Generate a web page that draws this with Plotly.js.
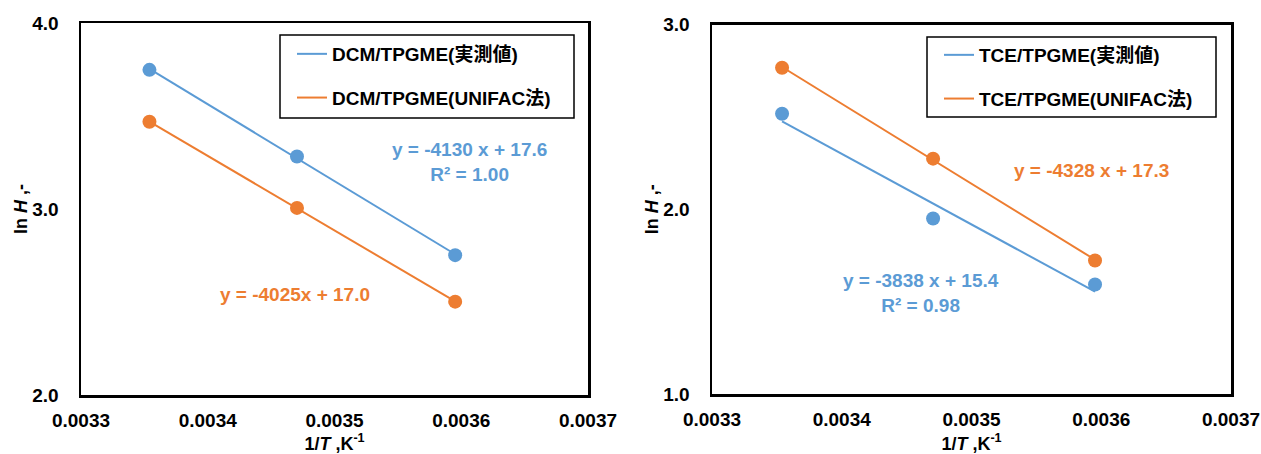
<!DOCTYPE html>
<html>
<head>
<meta charset="utf-8">
<script src="https://cdn.plot.ly/plotly-3.0.1.min.js"></script>
<style>html,body{margin:0;padding:0;background:#fff;}#chart{width:1261px;height:454px;}</style>
</head>
<body>
<div id="chart"></div>
<script>
// ---- data ----
const invT = [0.0033540, 0.0034704, 0.0035952];          // 1/T, K^-1
const dcmMeasured = [3.748, 3.282, 2.752];               // ln H, DCM/TPGME (実測値)
const dcmUnifac   = [3.469, 3.006, 2.502];               // ln H, DCM/TPGME (UNIFAC法)
const tceMeasured = [2.517, 1.950, 1.593];               // ln H, TCE/TPGME (実測値)
const tceUnifac   = [2.766, 2.274, 1.723];               // ln H, TCE/TPGME (UNIFAC法)
const seriesNames = ['DCM/TPGME(実測値)', 'DCM/TPGME(UNIFAC法)', 'TCE/TPGME(実測値)', 'TCE/TPGME(UNIFAC法)'];
const eqTexts = ['y = -4130 x + 17.6<br>R² = 1.00', 'y = -4025x + 17.0', 'y = -4328 x + 17.3', 'y = -3838 x + 15.4<br>R² = 0.98'];
const xTicks = [0.0033, 0.0034, 0.0035, 0.0036, 0.0037];
const yTicksLeft = [2, 3, 4];
const yTicksRight = [1, 2, 3];

// ---- style ----
const W = 1261, H = 454;
const BLUE = '#5B9BD5', ORANGE = '#ED7D31';
const FONT = 'Liberation Sans, Arial, Noto Sans CJK JP, sans-serif';
const px = v => v / W;
const py = v => 1 - v / H;

function linfit(xs, ys) {
  const n = xs.length;
  const mx = xs.reduce((a, b) => a + b, 0) / n;
  const my = ys.reduce((a, b) => a + b, 0) / n;
  let sxy = 0, sxx = 0;
  for (let i = 0; i < n; i++) { sxy += (xs[i] - mx) * (ys[i] - my); sxx += (xs[i] - mx) ** 2; }
  const m = sxy / sxx;
  return { m: m, b: my - m * mx };
}
function trend(xs, ys) {
  const f = linfit(xs, ys);
  const x0 = Math.min(...xs), x1 = Math.max(...xs);
  return { x: [x0, x1], y: [f.m * x0 + f.b, f.m * x1 + f.b] };
}

function pair(ys, color, name, xa, ya, leg, grp) {
  const t = trend(invT, ys);
  return [
    { x: t.x, y: t.y, mode: 'lines', name: name, line: { color: color, width: 2 },
      xaxis: xa, yaxis: ya, legend: leg, legendgroup: grp, showlegend: true, hoverinfo: 'skip' },
    { x: invT, y: ys, mode: 'markers', name: name, marker: { color: color, size: 14 },
      xaxis: xa, yaxis: ya, showlegend: false }
  ];
}

const data = [
  ...pair(dcmMeasured, BLUE, seriesNames[0], 'x', 'y', 'legend', 'a'),
  ...pair(dcmUnifac, ORANGE, seriesNames[1], 'x', 'y', 'legend', 'b'),
  ...pair(tceMeasured, BLUE, seriesNames[2], 'x2', 'y2', 'legend2', 'c'),
  ...pair(tceUnifac, ORANGE, seriesNames[3], 'x2', 'y2', 'legend2', 'd')
];

const tickFont = { family: FONT, size: 19, color: '#000', weight: 'bold' };
const titleFont = { family: FONT, size: 18, color: '#000', weight: 'bold' };

function xAxis(domain, anchor) {
  return {
    domain: domain, anchor: anchor, range: [0.0033, 0.0037], tickvals: xTicks, tickformat: '.4f',
    showgrid: false, zeroline: false, showline: true, mirror: true, linecolor: '#000', linewidth: 2.5,
    ticks: '', ticklabelstandoff: 7, tickfont: tickFont, fixedrange: true,
    title: { text: '1/<i>T</i> ,K<sup>-1</sup>', font: titleFont, standoff: 13 }
  };
}
function yAxis(domain, anchor, range, ticks) {
  return {
    domain: domain, anchor: anchor, range: range, tickvals: ticks, tickformat: '.1f',
    showgrid: false, zeroline: false, showline: true, mirror: true, linecolor: '#000', linewidth: 2.5,
    ticks: '', ticklabelstandoff: 16, tickfont: tickFont, fixedrange: true,
    title: { text: 'ln <i>H</i> ,-', font: titleFont, standoff: 0 }
  };
}
const legFont = { family: FONT, size: 19, color: '#000', weight: 'bold' };

const layout = {
  width: W, height: H, margin: { l: 0, r: 0, t: 0, b: 0 },
  paper_bgcolor: '#fff', plot_bgcolor: '#fff', showlegend: true,
  xaxis: xAxis([px(81), px(588)], 'y'),
  yaxis: yAxis([py(395), py(23)], 'x', [2, 4], yTicksLeft),
  xaxis2: xAxis([px(712), px(1231)], 'y2'),
  yaxis2: yAxis([py(394), py(24.5)], 'x2', [1, 3], yTicksRight),
  legend: { x: px(292), y: py(35), xanchor: 'left', yanchor: 'top', bgcolor: 'rgba(0,0,0,0)',
            borderwidth: 0, font: legFont, tracegroupgap: 16 },
  legend2: { x: px(939), y: py(36), xanchor: 'left', yanchor: 'top', bgcolor: 'rgba(0,0,0,0)',
             borderwidth: 0, font: legFont, tracegroupgap: 16 },
  shapes: [
    { type: 'rect', xref: 'paper', yref: 'paper', x0: px(280), x1: px(574), y0: py(118), y1: py(35),
      line: { color: '#000', width: 1.5 }, fillcolor: 'rgba(0,0,0,0)', layer: 'below' },
    { type: 'rect', xref: 'paper', yref: 'paper', x0: px(927), x1: px(1216), y0: py(117), y1: py(37),
      line: { color: '#000', width: 1.5 }, fillcolor: 'rgba(0,0,0,0)', layer: 'below' }
  ],
  annotations: [
    { text: eqTexts[0], xref: 'paper', yref: 'paper', x: px(469), y: py(162), xanchor: 'center', yanchor: 'middle',
      showarrow: false, align: 'center', font: { family: FONT, size: 19, color: BLUE, weight: 'bold' } },
    { text: eqTexts[1], xref: 'paper', yref: 'paper', x: px(295), y: py(294), xanchor: 'center', yanchor: 'middle',
      showarrow: false, font: { family: FONT, size: 19, color: ORANGE, weight: 'bold' } },
    { text: eqTexts[2], xref: 'paper', yref: 'paper', x: px(1091), y: py(171), xanchor: 'center', yanchor: 'middle',
      showarrow: false, font: { family: FONT, size: 19, color: ORANGE, weight: 'bold' } },
    { text: eqTexts[3], xref: 'paper', yref: 'paper', x: px(921), y: py(293), xanchor: 'center', yanchor: 'middle',
      showarrow: false, align: 'center', font: { family: FONT, size: 19, color: BLUE, weight: 'bold' } }
  ]
};

Plotly.newPlot('chart', data, layout, { displayModeBar: false, staticPlot: true });
</script>
</body>
</html>
